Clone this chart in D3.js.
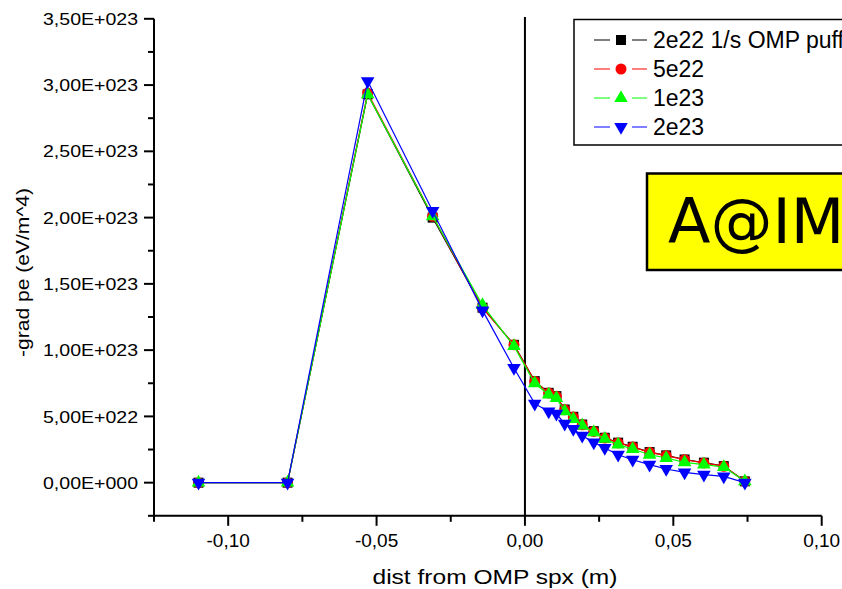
<!DOCTYPE html>
<html>
<head>
<meta charset="utf-8">
<script src="https://cdn.jsdelivr.net/npm/d3@7"></script>
<style>
  body { margin: 0; background: #fff; }
  svg { display: block; font-family: "Liberation Sans", Arial, sans-serif; }
</style>
</head>
<body>
<svg id="chart" width="842" height="589"></svg>
<script>
// distance from OMP separatrix (m)
const distValues = [-0.110, -0.080, -0.0530, -0.0311, -0.0143, -0.0037, 0.0033, 0.0080, 0.0106, 0.0134,
  0.0163, 0.0193, 0.0232, 0.0269, 0.0314, 0.0363, 0.0420, 0.0476, 0.0538, 0.0603, 0.0670, 0.0741];

// -grad pe, in units of 1e22 eV/m^4
const puff2e22 = [0, 0, 29.3, 20.0, 13.2, 10.4, 7.66, 6.78, 6.53, 5.52, 4.97, 4.39, 3.89, 3.39, 3.02, 2.71, 2.31, 2.06, 1.75, 1.51, 1.25, 0.1];
const puff5e22 = [0, 0, 29.4, 20.1, 13.2, 10.4, 7.64, 6.76, 6.51, 5.50, 4.95, 4.37, 3.87, 3.37, 3.00, 2.69, 2.29, 2.04, 1.73, 1.49, 1.23, 0.1];
const puff1e23 = [0, 0, 29.3, 20.1, 13.4, 10.3, 7.50, 6.64, 6.39, 5.38, 4.80, 4.30, 3.79, 3.30, 2.87, 2.54, 2.11, 1.86, 1.53, 1.36, 1.18, 0.1];
const puff2e23 = [0, 0, 30.3, 20.5, 13.0, 8.65, 5.96, 5.38, 5.20, 4.45, 4.05, 3.54, 3.04, 2.62, 2.11, 1.73, 1.36, 1.03, 0.78, 0.60, 0.48, 0.0];

const seriesNames = ["2e22 1/s OMP puff", "5e22", "1e23", "2e23"];
const seriesValues = [puff2e22, puff5e22, puff1e23, puff2e23];
const seriesColors = ["#000000", "#ff0000", "#00ff00", "#0000ff"];
const seriesSymbols = ["square", "circle", "triUp", "triDown"];

const xTicks = [-0.10, -0.05, 0.00, 0.05, 0.10];
const yTicks = [0, 5e22, 1e23, 1.5e23, 2e23, 2.5e23, 3e23, 3.5e23];

const svg = d3.select("#chart");

const x = d3.scaleLinear().domain([-0.125, 0.10]).range([154, 821.7]);
const y = d3.scaleLinear().domain([-2.5e22, 3.5e23]).range([515.8, 18.8]);

const fmtX = v => d3.format(".2f")(v).replace(".", ",").replace("−", "-");
const fmtY = v => {
  if (v === 0) return "0,00E+000";
  const e = Math.floor(Math.log10(v));
  return (v / Math.pow(10, e)).toFixed(2).replace(".", ",") + "E+0" + e;
};

// axes (left + bottom only)
const xAxis = svg.append("g").attr("transform", "translate(0," + y(-2.5e22) + ")");
xAxis.append("line").attr("x1", x(-0.125)).attr("x2", x(0.10)).attr("stroke", "#000").attr("stroke-width", 2);
xAxis.selectAll(".minor").data(d3.range(-0.125, 0.1, 0.05)).enter().append("line")
  .attr("x1", d => x(d)).attr("x2", d => x(d)).attr("y1", 0).attr("y2", 6)
  .attr("stroke", "#000").attr("stroke-width", 2);
xAxis.selectAll(".major").data(xTicks).enter().append("line")
  .attr("x1", d => x(d)).attr("x2", d => x(d)).attr("y1", 0).attr("y2", 10)
  .attr("stroke", "#000").attr("stroke-width", 2);
xAxis.selectAll(".lbl").data(xTicks).enter().append("text")
  .attr("x", d => x(d)).attr("y", 31.5).attr("text-anchor", "middle")
  .attr("font-size", 19).text(fmtX);

const yAxis = svg.append("g").attr("transform", "translate(" + x(-0.125) + ",0)");
yAxis.append("line").attr("y1", y(-2.5e22)).attr("y2", y(3.5e23)).attr("stroke", "#000").attr("stroke-width", 2);
yAxis.selectAll(".minor").data(d3.range(-2.5e22, 3.5e23, 5e22)).enter().append("line")
  .attr("y1", d => y(d)).attr("y2", d => y(d)).attr("x1", 0).attr("x2", -6)
  .attr("stroke", "#000").attr("stroke-width", 2);
yAxis.selectAll(".major").data(yTicks).enter().append("line")
  .attr("y1", d => y(d)).attr("y2", d => y(d)).attr("x1", 0).attr("x2", -10)
  .attr("stroke", "#000").attr("stroke-width", 2);
yAxis.selectAll(".lbl").data(yTicks).enter().append("text")
  .attr("x", -16).attr("y", d => y(d)).attr("dy", "0.36em").attr("text-anchor", "end")
  .attr("font-size", 17).attr("textLength", 95).attr("lengthAdjust", "spacingAndGlyphs").text(fmtY);

// axis titles
svg.append("text").attr("x", 495).attr("y", 584).attr("text-anchor", "middle")
  .attr("font-size", 21).attr("textLength", 245).attr("lengthAdjust", "spacingAndGlyphs")
  .text("dist from OMP spx (m)");
svg.append("text").attr("transform", "translate(29,272.5) rotate(-90)").attr("text-anchor", "middle")
  .attr("font-size", 18).attr("textLength", 169).attr("lengthAdjust", "spacingAndGlyphs")
  .text("-grad pe (eV/m^4)");

// separatrix line at x = 0
svg.append("line").attr("x1", x(0)).attr("x2", x(0)).attr("y1", 17).attr("y2", y(-2.5e22))
  .attr("stroke", "#000").attr("stroke-width", 2);

// marker shapes
const symbolPath = (kind) => {
  if (kind === "square") return d3.symbol(d3.symbolSquare, 100)();
  if (kind === "circle") return d3.symbol(d3.symbolCircle, 95)();
  return d3.symbol(d3.symbolTriangle, 80)();
};
const symbolRotate = kind => kind === "triDown" ? " rotate(180)" : "";

const line = d3.line().x(d => x(d[0])).y(d => y(d[1] * 1e22));

seriesValues.forEach((vals, i) => {
  const pts = distValues.map((d, j) => [d, vals[j]]);
  const g = svg.append("g");
  g.append("path").datum(pts).attr("d", line).attr("fill", "none")
    .attr("stroke", seriesColors[i]).attr("stroke-width", 1.2);
  g.selectAll("path.m").data(pts).enter().append("path").attr("class", "m")
    .attr("d", symbolPath(seriesSymbols[i]))
    .attr("transform", d => "translate(" + x(d[0]) + "," + y(d[1] * 1e22) + ")" + symbolRotate(seriesSymbols[i]))
    .attr("fill", seriesColors[i]);
});

// legend
const legend = svg.append("g");
legend.append("rect").attr("x", 574).attr("y", 19.5).attr("width", 300).attr("height", 125.5)
  .attr("fill", "#fff").attr("stroke", "#000").attr("stroke-width", 1.5);
seriesNames.forEach((name, i) => {
  const cy = 40 + i * 29;
  legend.append("line").attr("x1", 594).attr("x2", 647).attr("y1", cy).attr("y2", cy)
    .attr("stroke", seriesColors[i]).attr("stroke-width", 1.2);
  legend.append("rect").attr("x", 610).attr("y", cy - 7).attr("width", 22).attr("height", 14).attr("fill", "#fff");
  legend.append("path").attr("d", symbolPath(seriesSymbols[i]))
    .attr("transform", "translate(621," + cy + ")" + symbolRotate(seriesSymbols[i]))
    .attr("fill", seriesColors[i]);
  legend.append("text").attr("x", 653).attr("y", cy).attr("dy", "0.36em")
    .attr("font-size", 23).text(name);
});

// yellow label box
const tag = svg.append("g");
tag.append("rect").attr("x", 647).attr("y", 173.5).attr("width", 220).attr("height", 96.5)
  .attr("fill", "#ffff00").attr("stroke", "#000").attr("stroke-width", 2.5);
tag.append("text").attr("x", 668).attr("y", 243).attr("font-family", "DejaVu Sans")
  .attr("font-size", 62).text("A@IM");
</script>
</body>
</html>
